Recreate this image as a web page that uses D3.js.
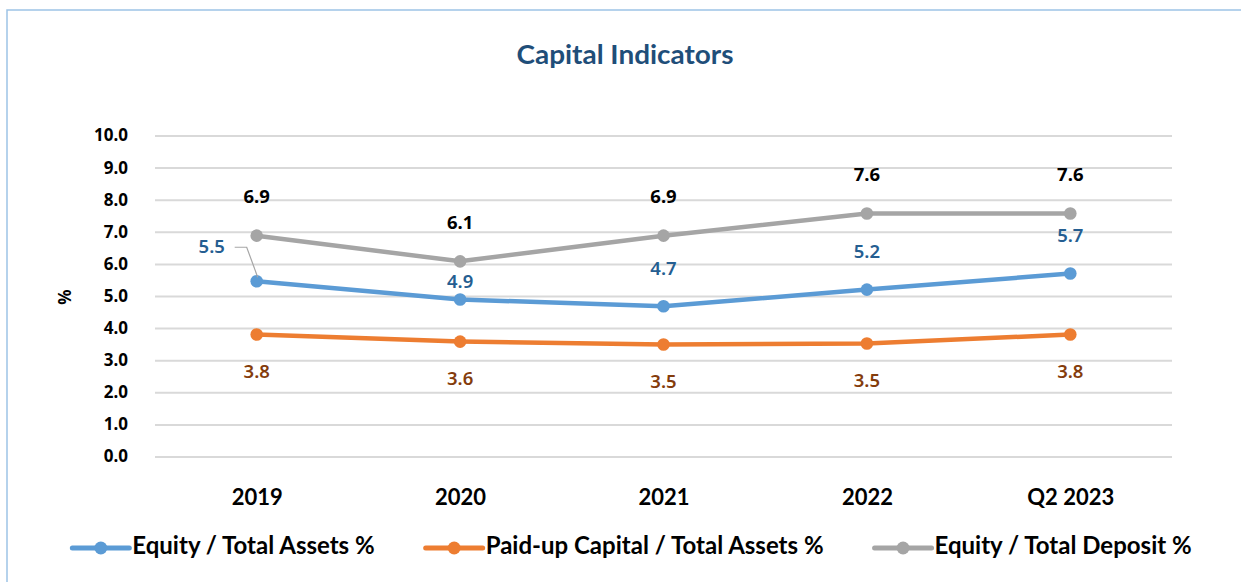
<!DOCTYPE html>
<html>
<head>
<meta charset="utf-8">
<script src="https://cdn.jsdelivr.net/npm/d3@7"></script>
<style>
  html, body { margin: 0; padding: 0; background: #fff; }
  svg { display: block; }
  .narrow { font-family: "Lato", "Liberation Sans Narrow", sans-serif; font-weight: bold; }
  .sans { font-family: "Noto Sans", "Open Sans", sans-serif; }
</style>
</head>
<body>
<svg id="chart" width="1241" height="582"></svg>
<script>
// ---- data ----
const categories = ["2019", "2020", "2021", "2022", "Q2 2023"];
const equityTotalAssets = [5.46, 4.89, 4.68, 5.2, 5.7];
const paidUpTotalAssets = [3.8, 3.58, 3.49, 3.52, 3.8];
const equityTotalDeposit = [6.88, 6.08, 6.88, 7.57, 7.57];
const seriesNames = ["Equity / Total Assets %", "Paid-up Capital / Total Assets %", "Equity / Total Deposit %"];
const yTicks = [0, 1, 2, 3, 4, 5, 6, 7, 8, 9, 10];
const titleText = "Capital Indicators";
const yAxisLabel = "%";

// ---- layout & style ----
const colors = ["#5B9BD5", "#ED7D31", "#A5A5A5"];
const labelColors = ["#255E91", "#843C0C", "#000000"];
const labelWeights = [600, 600, 700];
const svg = d3.select("#chart");
const plot = { left: 155, right: 1172, top: 135.5, bottom: 456.5 };

// frame
svg.append("rect")
  .attr("x", 7).attr("y", 10).attr("width", 1400).attr("height", 800)
  .attr("fill", "#fff").attr("stroke", "#9DC3E6").attr("stroke-width", 1.5);

// title
svg.append("text").attr("class", "narrow")
  .attr("x", 625).attr("y", 64)
  .attr("text-anchor", "middle")
  .attr("font-size", 27).attr("fill", "#1F4E79")
  .attr("textLength", 217).attr("lengthAdjust", "spacingAndGlyphs")
  .text(titleText);

const x = d3.scalePoint().domain(categories).range([plot.left, plot.right]).padding(0.5);
const y = d3.scaleLinear().domain([0, 10]).range([plot.bottom, plot.top]);

// y axis + gridlines
const yAxis = svg.append("g")
  .attr("transform", `translate(${plot.left},0)`)
  .call(d3.axisLeft(y).tickValues(yTicks).tickFormat(d3.format(".1f"))
    .tickSizeInner(-(plot.right - plot.left)).tickSizeOuter(0).tickPadding(27));
yAxis.select(".domain").remove();
yAxis.selectAll(".tick line").attr("stroke", "#D9D9D9").attr("stroke-width", 2);
yAxis.selectAll(".tick text")
  .attr("class", "sans").attr("font-size", 17).attr("font-weight", 700).attr("fill", "#000");

// y label
svg.append("text").attr("class", "sans")
  .attr("transform", "translate(71,297) rotate(-90)")
  .attr("text-anchor", "middle").attr("font-size", 17).attr("font-weight", 700)
  .text(yAxisLabel);

// x axis
const xAxis = svg.append("g")
  .attr("transform", `translate(0,${plot.bottom})`)
  .call(d3.axisBottom(x).tickSize(0));
xAxis.select(".domain").remove();
xAxis.selectAll(".tick text")
  .attr("class", "narrow").attr("font-size", 22).attr("fill", "#000")
  .attr("y", 48).attr("dy", 0);

// series
const allSeries = [equityTotalAssets, paidUpTotalAssets, equityTotalDeposit];
const line = d3.line().x((d, i) => x(categories[i])).y(d => y(d));

const order = [2, 1, 0];
order.forEach(si => {
  const vals = allSeries[si];
  const g = svg.append("g");
  g.append("path").datum(vals).attr("d", line)
    .attr("fill", "none").attr("stroke", colors[si]).attr("stroke-width", 4.5)
    .attr("stroke-linejoin", "round").attr("stroke-linecap", "round");
  g.selectAll("circle").data(vals).join("circle")
    .attr("cx", (d, i) => x(categories[i])).attr("cy", d => y(d))
    .attr("r", 6.3).attr("fill", colors[si]);
});

// data labels
function labelOffset(si, i) {
  if (si === 0) {
    if (i === 0) return { dx: -45, dy: -35 };
    if (i === 1) return { dx: 0, dy: -18 };
    return { dx: 0, dy: -38 };
  }
  if (si === 1) return { dx: 0, dy: 37 };
  return { dx: 0, dy: -39 };
}
{
  const px = x(categories[0]), py = y(equityTotalAssets[0]);
  svg.append("path")
    .attr("d", `M${px - 22},${py - 34} L${px - 10},${py - 34} L${px + 1},${py - 4}`)
    .attr("fill", "none").attr("stroke", "#A6A6A6").attr("stroke-width", 1.2);
}
allSeries.forEach((vals, si) => {
  svg.append("g").selectAll("text").data(vals).join("text")
    .attr("class", "sans")
    .attr("x", (d, i) => x(categories[i]) + labelOffset(si, i).dx)
    .attr("y", (d, i) => y(d) + labelOffset(si, i).dy)
    .attr("dy", "0.35em")
    .attr("text-anchor", "middle")
    .attr("font-size", 18.5).attr("font-weight", labelWeights[si])
    .attr("fill", labelColors[si])
    .text(d => d.toFixed(1));
});

// legend
const legend = svg.append("g");
let lx = 0;
seriesNames.forEach((name, si) => {
  const g = legend.append("g");
  g.append("line").attr("x1", 0).attr("x2", 57).attr("y1", 0).attr("y2", 0)
    .attr("stroke", colors[si]).attr("stroke-width", 5).attr("stroke-linecap", "round");
  g.append("circle").attr("cx", 28.5).attr("cy", 0).attr("r", 6.5).attr("fill", colors[si]);
  const t = g.append("text").attr("class", "narrow")
    .attr("x", 60).attr("y", 6).attr("font-size", 24).attr("fill", "#000").text(name);
  const w = 60 + t.node().getComputedTextLength();
  g.attr("transform", `translate(${lx},0)`);
  lx += w + 51;
});
const totalW = lx - 51;
legend.attr("transform", `translate(${632 - totalW / 2},548)`);
</script>
</body>
</html>
